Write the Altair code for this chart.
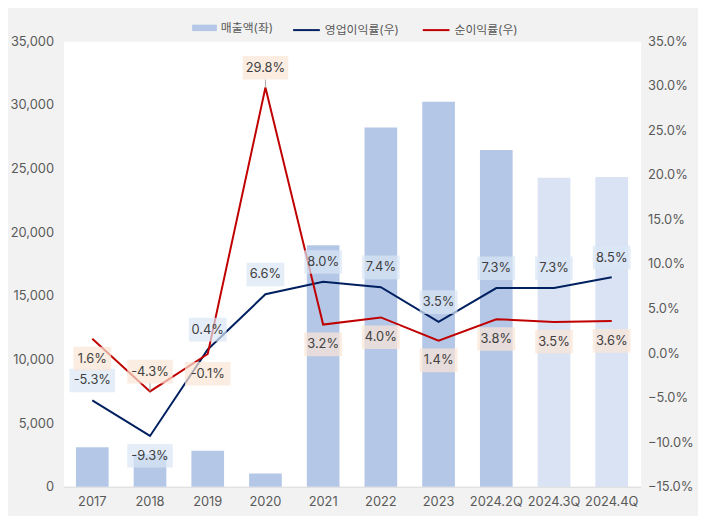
import altair as alt
import pandas as pd

# ---- data ----
categories = ["2017", "2018", "2019", "2020", "2021", "2022", "2023",
              "2024.2Q", "2024.3Q", "2024.4Q"]
sales = [3110, 2570, 2820, 1030, 18980, 28230, 30250, 26450, 24270, 24340]
sales_estimate = [False, False, False, False, False, False, False, False, True, True]
op_margin = [-5.3, -9.3, 0.4, 6.6, 8.0, 7.4, 3.5, 7.3, 7.3, 8.5]
net_margin = [1.6, -4.3, -0.1, 29.8, 3.2, 4.0, 1.4, 3.8, 3.5, 3.6]
op_label_side = ["above", "below", "above", "above", "above", "above",
                 "above", "above", "above", "above"]
net_label_side = ["below", "above", "below", "above", "below", "below",
                  "below", "below", "below", "below"]
left_ticks = [0, 5000, 10000, 15000, 20000, 25000, 30000, 35000]
right_ticks = [-15, -10, -5, 0, 5, 10, 15, 20, 25, 30, 35]

SALES_NAME = "매출액(좌)"
OP_NAME = "영업이익률(우)"
NET_NAME = "순이익률(우)"

FONT = "Inter, 'Noto Sans CJK KR', sans-serif"
LABEL_GRAY = "#595959"
TEXT_GRAY = "#404040"

bars_df = pd.DataFrame({
    "category": categories,
    "sales": sales,
    "estimate": sales_estimate,
    "series": [SALES_NAME] * len(categories),
})

rows = []
for name, vals, sides in [(OP_NAME, op_margin, op_label_side),
                          (NET_NAME, net_margin, net_label_side)]:
    for c, v, s in zip(categories, vals, sides):
        lbl = f"{v:.1f}%"
        rows.append({"category": c, "value": v, "series": name, "side": s,
                     "label": lbl, "wide": "5" if len(lbl) >= 5 else "4"})
lines_df = pd.DataFrame(rows)

x_enc = alt.X("category:N", sort=categories, title=None,
              scale=alt.Scale(paddingInner=0, paddingOuter=0),
              axis=alt.Axis(labelAngle=0, ticks=False, domainColor="#d9d9d9",
                            labelPadding=9, labelFont=FONT, labelFontSize=13,
                            labelColor=LABEL_GRAY))

y_left = alt.Y("sales:Q", title=None,
               scale=alt.Scale(domain=[0, 35000], nice=False, zero=True),
               axis=alt.Axis(values=left_ticks, format=",.0f", grid=False, domain=False,
                             ticks=False, labelPadding=10, labelFont=FONT,
                             labelFontSize=13, labelColor=LABEL_GRAY))

y_right = alt.Y("value:Q", title=None,
                scale=alt.Scale(domain=[-15, 35], nice=False, zero=False),
                axis=alt.Axis(orient="right", values=right_ticks,
                              labelExpr="format(datum.value, '.1f') + '%'",
                              grid=False, domain=False, ticks=False, labelPadding=7,
                              labelFont=FONT, labelFontSize=13,
                              labelColor=LABEL_GRAY))

bars = alt.Chart(bars_df).mark_bar(width=33).encode(
    x=x_enc,
    y=y_left,
    fill=alt.Fill("series:N",
                  scale=alt.Scale(domain=[SALES_NAME], range=["#b4c7e7"]),
                  legend=alt.Legend(orient="none", legendX=130, legendY=-26,
                                    title=None, symbolType="M-1,-0.26H1V0.26H-1Z",
                                    symbolSize=625, symbolStrokeWidth=0,
                                    labelOffset=4, labelFont=FONT,
                                    labelFontSize=12, labelColor=LABEL_GRAY)),
    opacity=alt.condition(alt.datum.estimate, alt.value(0.5), alt.value(1.0)),
)

base = alt.Chart(lines_df)

lines = base.mark_line(strokeWidth=2).encode(
    x=x_enc,
    y=y_right,
    stroke=alt.Stroke("series:N",
                      scale=alt.Scale(domain=[OP_NAME, NET_NAME],
                                      range=["#002060", "#c00000"]),
                      legend=alt.Legend(orient="none", legendX=231, legendY=-26,
                                        title=None, direction="horizontal",
                                        symbolType="stroke", symbolSize=729,
                                        symbolStrokeWidth=2, columnPadding=20,
                                        labelOffset=4, labelFont=FONT,
                                        labelFontSize=12, labelColor=LABEL_GRAY)),
)

box_fill = alt.condition(alt.datum.series == OP_NAME,
                         alt.value("#dae7f5"), alt.value("#fbe5d6"))
box_shape = alt.Shape("wide:N",
                      scale=alt.Scale(domain=["4", "5"],
                                      range=["M-0.83,-0.52H0.83V0.52H-0.83Z",
                                             "M-1,-0.52H1V0.52H-1Z"]),
                      legend=None)

OFF = 20
layers = []
for side, off in [("above", -OFF), ("below", OFF)]:
    layers.append(
        base.transform_filter(alt.datum.side == side)
        .mark_point(filled=True, size=2116, opacity=0.7, strokeWidth=0, yOffset=off)
        .encode(x=x_enc, y=y_right, shape=box_shape, fill=box_fill)
    )
for side, off in [("above", -OFF), ("below", OFF)]:
    layers.append(
        base.transform_filter(alt.datum.side == side)
        .mark_text(font=FONT, fontSize=13, color=TEXT_GRAY, baseline="middle",
                   yOffset=off)
        .encode(x=x_enc, y=y_right, text="label:N")
    )

leaders = base.transform_filter(
    (alt.datum.series == NET_NAME) & (alt.datum.side == "above")
).mark_rule(color="#a6a6a6", strokeWidth=1, yOffset=-8, y2Offset=0).encode(
    x=x_enc, y=y_right, y2="value:Q"
)

right_layer = alt.layer(lines, *layers, leaders)

chart = alt.layer(bars, right_layer).resolve_scale(y="independent").properties(
    width=583, height=450, autosize="none",
    padding={"left": 56, "top": 31, "right": 58, "bottom": 27},
    background="#f2f2f2",
).configure_view(fill="white", stroke="transparent")

chart.save("out.html", embed_options={"renderer": "svg", "actions": False})
